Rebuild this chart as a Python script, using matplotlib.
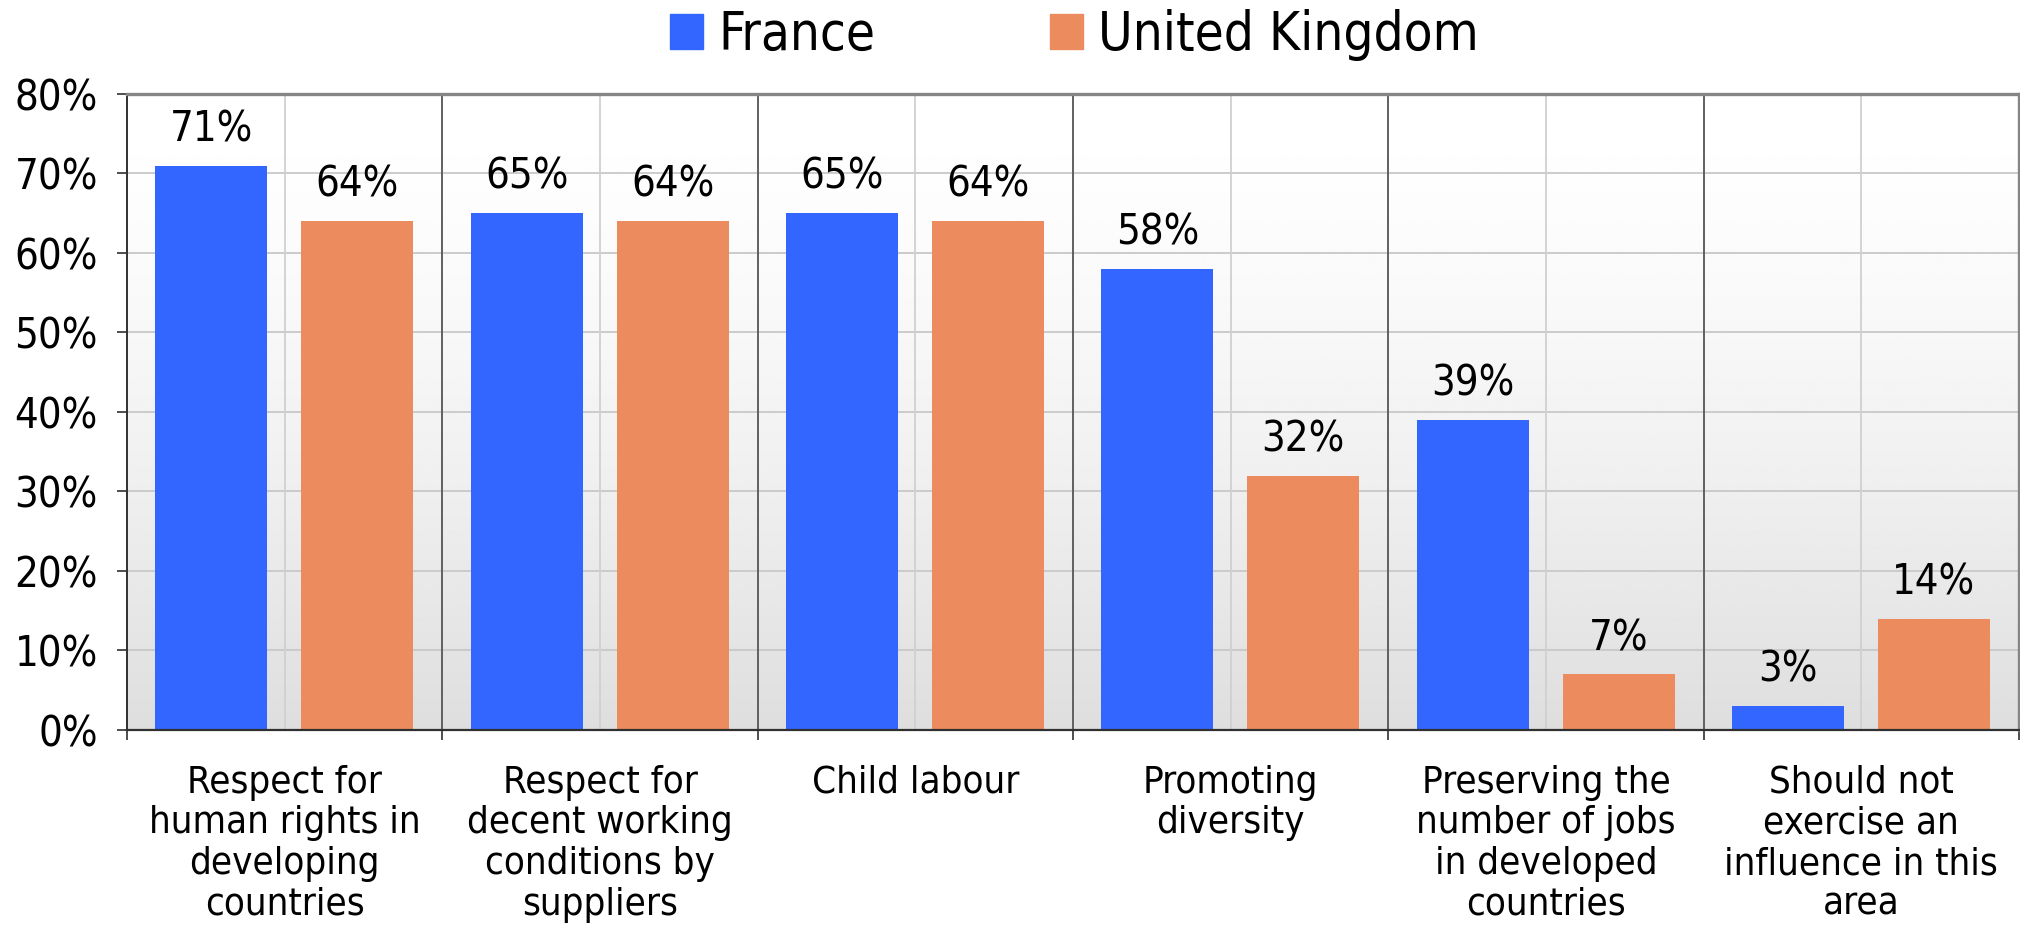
import numpy as np
import matplotlib
matplotlib.use("Agg")
import matplotlib.pyplot as plt
from matplotlib.patches import Patch

# Survey answers, share of respondents per country
categories = [
    "Respect for\nhuman rights in\ndeveloping\ncountries",
    "Respect for\ndecent working\nconditions by\nsuppliers",
    "Child labour",
    "Promoting\ndiversity",
    "Preserving the\nnumber of jobs\nin developed\ncountries",
    "Should not\nexercise an\ninfluence in this\narea",
]
france = [71, 65, 65, 58, 39, 3]
united_kingdom = [64, 64, 64, 32, 7, 14]
series_names = ["France", "United Kingdom"]
y_ticks = [0, 10, 20, 30, 40, 50, 60, 70, 80]

BLUE = "#3366ff"
ORANGE = "#ec8b5e"

plt.rcParams["font.family"] = "DejaVu Sans"
plt.rcParams["font.stretch"] = "condensed"

fig = plt.figure(figsize=(20.2, 9.26), dpi=100)
ax = fig.add_axes([0.0629, 0.2117, 0.9366, 0.6868])

n = len(categories)
x = np.arange(n)

# vertical white -> grey background (row 0 is the top)
shade = 1 - 0.13 * np.linspace(0, 1, 256) ** 1.5
ax.imshow(np.repeat(shade[:, None], 2, axis=1), cmap="gray", vmin=0, vmax=1,
          extent=(-0.5, n - 0.5, 0, 80), origin="upper", aspect="auto",
          zorder=0, interpolation="bilinear")
ax.set_xlim(-0.5, n - 0.5)
ax.set_ylim(0, 80)

# grid: light lines for each 10 %, light centre lines, dark group separators
for v in y_ticks[1:-1]:
    ax.axhline(v, color="#c8c8c8", lw=1.3, zorder=1)
ax.vlines(x, 0, 80, color="#d0d0d0", lw=1.3, zorder=1)
ax.vlines(np.arange(1, n) - 0.5, 0, 80, color="#606060", lw=1.4, zorder=1)

bw = 0.355
b1 = ax.bar(x - 0.233, france, bw, color=BLUE, zorder=2)
b2 = ax.bar(x + 0.230, united_kingdom, bw, color=ORANGE, zorder=2)

for bars, vals in ((b1, france), (b2, united_kingdom)):
    for rect, v in zip(bars, vals):
        ax.annotate(f"{v}%", (rect.get_x() + rect.get_width() / 2, v),
                    xytext=(0, 11), textcoords="offset points",
                    ha="center", va="bottom", fontsize=30, color="black")

# axes frame
ax.spines["left"].set_color("#303030")
ax.spines["left"].set_linewidth(1.4)
ax.spines["bottom"].set_color("#303030")
ax.spines["bottom"].set_linewidth(1.6)
for side in ("top", "right"):
    ax.spines[side].set_color("#858585")
    ax.spines[side].set_linewidth(2.4)

ax.set_yticks(y_ticks)
ax.set_yticklabels([f"{v}%" for v in y_ticks], fontsize=30)
ax.tick_params(axis="y", length=7, width=1.2, color="#303030", pad=14)

# separators get ticks below the axis, category names sit in the middle
ax.set_xticks(np.arange(n + 1) - 0.5)
ax.set_xticklabels([])
ax.tick_params(axis="x", which="major", length=7.5, width=1.2, color="#303030")
ax.set_xticks(x, minor=True)
ax.set_xticklabels(categories, minor=True, fontsize=27.5, linespacing=1.17)
ax.tick_params(axis="x", which="minor", length=0, pad=25)

handles = [Patch(color=BLUE), Patch(color=ORANGE)]
fig.legend(handles, series_names, loc="upper center", bbox_to_anchor=(0.532, 1.013),
           ncol=2, frameon=False, fontsize=38, handlelength=0.62, handleheight=0.62,
           handletextpad=0.3, columnspacing=3.3, borderaxespad=0)

fig.savefig("out.png", dpi=100)
